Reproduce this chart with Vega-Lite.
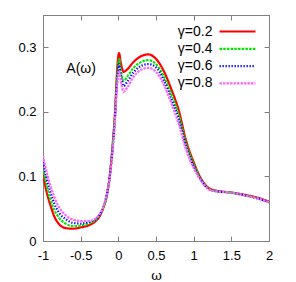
{
  "$schema": "https://vega.github.io/schema/vega-lite/v6.json",
  "width": 226,
  "height": 226,
  "autosize": {"type": "none"},
  "padding": {"left": 43, "top": 15, "right": 27, "bottom": 41},
  "config": {
    "font": "Liberation Sans",
    "view": {"stroke": "#808080", "strokeWidth": 1},
    "axis": {"grid": false, "domainColor": "#808080", "tickColor": "#808080", "labelFont": "Liberation Sans", "labelFontSize": 13, "labelColor": "black", "titleFontWeight": "normal"}
  },
  "datasets": {
    "curves": [
      {"w": -1, "A": 0.104, "g": "γ=0.2"}, {"w": -0.95, "A": 0.075, "g": "γ=0.2"}, {"w": -0.9, "A": 0.055, "g": "γ=0.2"}, {"w": -0.85, "A": 0.038, "g": "γ=0.2"}, {"w": -0.8, "A": 0.028, "g": "γ=0.2"}, {"w": -0.7, "A": 0.020, "g": "γ=0.2"}, {"w": -0.6, "A": 0.019, "g": "γ=0.2"}, {"w": -0.5, "A": 0.021, "g": "γ=0.2"}, {"w": -0.4, "A": 0.024, "g": "γ=0.2"}, {"w": -0.3, "A": 0.031, "g": "γ=0.2"}, {"w": -0.25, "A": 0.038, "g": "γ=0.2"}, {"w": -0.2, "A": 0.051, "g": "γ=0.2"}, {"w": -0.15, "A": 0.072, "g": "γ=0.2"}, {"w": -0.1, "A": 0.116, "g": "γ=0.2"}, {"w": -0.07, "A": 0.157, "g": "γ=0.2"}, {"w": -0.04, "A": 0.207, "g": "γ=0.2"}, {"w": -0.03, "A": 0.232, "g": "γ=0.2"}, {"w": -0.01, "A": 0.275, "g": "γ=0.2"}, {"w": 0.01, "A": 0.291, "g": "γ=0.2"}, {"w": 0.03, "A": 0.278, "g": "γ=0.2"}, {"w": 0.07, "A": 0.262, "g": "γ=0.2"}, {"w": 0.12, "A": 0.266, "g": "γ=0.2"}, {"w": 0.2, "A": 0.277, "g": "γ=0.2"}, {"w": 0.3, "A": 0.286, "g": "γ=0.2"}, {"w": 0.4, "A": 0.289, "g": "γ=0.2"}, {"w": 0.5, "A": 0.282, "g": "γ=0.2"}, {"w": 0.6, "A": 0.264, "g": "γ=0.2"}, {"w": 0.7, "A": 0.236, "g": "γ=0.2"}, {"w": 0.8, "A": 0.203, "g": "γ=0.2"}, {"w": 0.9, "A": 0.155, "g": "γ=0.2"}, {"w": 1.0, "A": 0.122, "g": "γ=0.2"}, {"w": 1.1, "A": 0.096, "g": "γ=0.2"}, {"w": 1.2, "A": 0.082, "g": "γ=0.2"}, {"w": 1.3, "A": 0.078, "g": "γ=0.2"}, {"w": 1.5, "A": 0.075, "g": "γ=0.2"}, {"w": 1.7, "A": 0.071, "g": "γ=0.2"}, {"w": 1.85, "A": 0.067, "g": "γ=0.2"}, {"w": 2.0, "A": 0.061, "g": "γ=0.2"},

      {"w": -1, "A": 0.112, "g": "γ=0.4"}, {"w": -0.95, "A": 0.085, "g": "γ=0.4"}, {"w": -0.9, "A": 0.064, "g": "γ=0.4"}, {"w": -0.85, "A": 0.048, "g": "γ=0.4"}, {"w": -0.8, "A": 0.038, "g": "γ=0.4"}, {"w": -0.7, "A": 0.027, "g": "γ=0.4"}, {"w": -0.6, "A": 0.023, "g": "γ=0.4"}, {"w": -0.5, "A": 0.024, "g": "γ=0.4"}, {"w": -0.4, "A": 0.027, "g": "γ=0.4"}, {"w": -0.3, "A": 0.033, "g": "γ=0.4"}, {"w": -0.25, "A": 0.040, "g": "γ=0.4"}, {"w": -0.2, "A": 0.052, "g": "γ=0.4"}, {"w": -0.15, "A": 0.073, "g": "γ=0.4"}, {"w": -0.1, "A": 0.115, "g": "γ=0.4"}, {"w": -0.07, "A": 0.155, "g": "γ=0.4"}, {"w": -0.04, "A": 0.204, "g": "γ=0.4"}, {"w": -0.03, "A": 0.228, "g": "γ=0.4"}, {"w": -0.01, "A": 0.266, "g": "γ=0.4"}, {"w": 0.01, "A": 0.282, "g": "γ=0.4"}, {"w": 0.03, "A": 0.267, "g": "γ=0.4"}, {"w": 0.07, "A": 0.248, "g": "γ=0.4"}, {"w": 0.12, "A": 0.255, "g": "γ=0.4"}, {"w": 0.2, "A": 0.268, "g": "γ=0.4"}, {"w": 0.3, "A": 0.277, "g": "γ=0.4"}, {"w": 0.4, "A": 0.280, "g": "γ=0.4"}, {"w": 0.5, "A": 0.274, "g": "γ=0.4"}, {"w": 0.6, "A": 0.256, "g": "γ=0.4"}, {"w": 0.7, "A": 0.228, "g": "γ=0.4"}, {"w": 0.8, "A": 0.196, "g": "γ=0.4"}, {"w": 0.9, "A": 0.150, "g": "γ=0.4"}, {"w": 1.0, "A": 0.119, "g": "γ=0.4"}, {"w": 1.1, "A": 0.095, "g": "γ=0.4"}, {"w": 1.2, "A": 0.081, "g": "γ=0.4"}, {"w": 1.3, "A": 0.077, "g": "γ=0.4"}, {"w": 1.5, "A": 0.075, "g": "γ=0.4"}, {"w": 1.7, "A": 0.070, "g": "γ=0.4"}, {"w": 1.85, "A": 0.066, "g": "γ=0.4"}, {"w": 2.0, "A": 0.060, "g": "γ=0.4"},

      {"w": -1, "A": 0.122, "g": "γ=0.6"}, {"w": -0.95, "A": 0.096, "g": "γ=0.6"}, {"w": -0.9, "A": 0.075, "g": "γ=0.6"}, {"w": -0.85, "A": 0.058, "g": "γ=0.6"}, {"w": -0.8, "A": 0.046, "g": "γ=0.6"}, {"w": -0.7, "A": 0.034, "g": "γ=0.6"}, {"w": -0.6, "A": 0.028, "g": "γ=0.6"}, {"w": -0.5, "A": 0.027, "g": "γ=0.6"}, {"w": -0.4, "A": 0.029, "g": "γ=0.6"}, {"w": -0.3, "A": 0.034, "g": "γ=0.6"}, {"w": -0.25, "A": 0.040, "g": "γ=0.6"}, {"w": -0.2, "A": 0.053, "g": "γ=0.6"}, {"w": -0.15, "A": 0.074, "g": "γ=0.6"}, {"w": -0.1, "A": 0.114, "g": "γ=0.6"}, {"w": -0.07, "A": 0.152, "g": "γ=0.6"}, {"w": -0.04, "A": 0.200, "g": "γ=0.6"}, {"w": -0.03, "A": 0.223, "g": "γ=0.6"}, {"w": -0.01, "A": 0.258, "g": "γ=0.6"}, {"w": 0.01, "A": 0.274, "g": "γ=0.6"}, {"w": 0.03, "A": 0.259, "g": "γ=0.6"}, {"w": 0.07, "A": 0.240, "g": "γ=0.6"}, {"w": 0.12, "A": 0.247, "g": "γ=0.6"}, {"w": 0.2, "A": 0.261, "g": "γ=0.6"}, {"w": 0.3, "A": 0.271, "g": "γ=0.6"}, {"w": 0.4, "A": 0.274, "g": "γ=0.6"}, {"w": 0.5, "A": 0.269, "g": "γ=0.6"}, {"w": 0.6, "A": 0.250, "g": "γ=0.6"}, {"w": 0.7, "A": 0.221, "g": "γ=0.6"}, {"w": 0.8, "A": 0.189, "g": "γ=0.6"}, {"w": 0.9, "A": 0.146, "g": "γ=0.6"}, {"w": 1.0, "A": 0.116, "g": "γ=0.6"}, {"w": 1.1, "A": 0.094, "g": "γ=0.6"}, {"w": 1.2, "A": 0.080, "g": "γ=0.6"}, {"w": 1.3, "A": 0.077, "g": "γ=0.6"}, {"w": 1.5, "A": 0.075, "g": "γ=0.6"}, {"w": 1.7, "A": 0.070, "g": "γ=0.6"}, {"w": 1.85, "A": 0.066, "g": "γ=0.6"}, {"w": 2.0, "A": 0.060, "g": "γ=0.6"},

      {"w": -1, "A": 0.132, "g": "γ=0.8"}, {"w": -0.95, "A": 0.106, "g": "γ=0.8"}, {"w": -0.9, "A": 0.085, "g": "γ=0.8"}, {"w": -0.85, "A": 0.068, "g": "γ=0.8"}, {"w": -0.8, "A": 0.055, "g": "γ=0.8"}, {"w": -0.7, "A": 0.040, "g": "γ=0.8"}, {"w": -0.6, "A": 0.033, "g": "γ=0.8"}, {"w": -0.5, "A": 0.031, "g": "γ=0.8"}, {"w": -0.4, "A": 0.031, "g": "γ=0.8"}, {"w": -0.3, "A": 0.035, "g": "γ=0.8"}, {"w": -0.25, "A": 0.041, "g": "γ=0.8"}, {"w": -0.2, "A": 0.053, "g": "γ=0.8"}, {"w": -0.15, "A": 0.074, "g": "γ=0.8"}, {"w": -0.1, "A": 0.112, "g": "γ=0.8"}, {"w": -0.07, "A": 0.148, "g": "γ=0.8"}, {"w": -0.04, "A": 0.195, "g": "γ=0.8"}, {"w": -0.03, "A": 0.217, "g": "γ=0.8"}, {"w": -0.01, "A": 0.249, "g": "γ=0.8"}, {"w": 0.01, "A": 0.264, "g": "γ=0.8"}, {"w": 0.03, "A": 0.250, "g": "γ=0.8"}, {"w": 0.07, "A": 0.231, "g": "γ=0.8"}, {"w": 0.12, "A": 0.238, "g": "γ=0.8"}, {"w": 0.2, "A": 0.254, "g": "γ=0.8"}, {"w": 0.3, "A": 0.265, "g": "γ=0.8"}, {"w": 0.4, "A": 0.268, "g": "γ=0.8"}, {"w": 0.5, "A": 0.262, "g": "γ=0.8"}, {"w": 0.6, "A": 0.243, "g": "γ=0.8"}, {"w": 0.7, "A": 0.214, "g": "γ=0.8"}, {"w": 0.8, "A": 0.182, "g": "γ=0.8"}, {"w": 0.9, "A": 0.141, "g": "γ=0.8"}, {"w": 1.0, "A": 0.113, "g": "γ=0.8"}, {"w": 1.1, "A": 0.093, "g": "γ=0.8"}, {"w": 1.2, "A": 0.080, "g": "γ=0.8"}, {"w": 1.3, "A": 0.077, "g": "γ=0.8"}, {"w": 1.5, "A": 0.075, "g": "γ=0.8"}, {"w": 1.7, "A": 0.070, "g": "γ=0.8"}, {"w": 1.85, "A": 0.066, "g": "γ=0.8"}, {"w": 2.0, "A": 0.060, "g": "γ=0.8"}
    ]
  },
  "resolve": {"axis": {"x": "independent", "y": "independent"}},
  "layer": [
    {
      "data": {"name": "curves"},
      "mark": {"type": "line", "interpolate": "monotone", "strokeWidth": 2.2, "clip": true},
      "encoding": {
        "x": {"field": "w", "type": "quantitative", "scale": {"domain": [-1, 2], "nice": false, "zero": false},
          "axis": {"orient": "bottom", "values": [-1, -0.5, 0, 0.5, 1, 1.5, 2], "labelExpr": "'' + datum.value", "tickSize": -5, "labelPadding": 13, "title": "ω", "titleFont": "DejaVu Serif", "titleFontSize": 13, "titlePadding": 7, "labelFlush": false}},
        "y": {"field": "A", "type": "quantitative", "scale": {"domain": [0, 0.35], "nice": false},
          "axis": {"orient": "left", "values": [0, 0.1, 0.2, 0.3], "labelExpr": "'' + datum.value", "tickSize": -5, "labelPadding": 12, "title": null}},
        "color": {"field": "g", "type": "nominal", "scale": {"range": ["#ff0000", "#00e600", "#0000ff", "#ff66ff"]},
          "legend": {"title": null, "orient": "none", "legendX": 187, "legendY": 9, "symbolType": "M-3,0H3", "symbolSize": 144, "symbolStrokeWidth": 2.2, "symbolFillColor": "transparent", "labelAlign": "right", "labelOffset": -32.5, "labelFontSize": 14, "labelFont": "Liberation Sans", "rowPadding": 2.3, "padding": 0}},
        "strokeDash": {"field": "g", "type": "nominal", "scale": {"range": [[1, 0], [2.5, 1.2], [1.3, 1.7], [2.5, 1]]}, "legend": null}
      }
    },
    {
      "data": {"values": [{"label": "A(ω)", "w": -0.69, "A": 0.266}]},
      "mark": {"type": "text", "align": "left", "baseline": "middle", "fontSize": 14, "font": "Liberation Sans"},
      "encoding": {
        "x": {"field": "w", "type": "quantitative", "axis": {"orient": "top", "values": [-1, -0.5, 0, 0.5, 1, 1.5, 2], "labels": false, "tickSize": -5, "title": null}},
        "y": {"field": "A", "type": "quantitative", "axis": {"orient": "right", "values": [0, 0.1, 0.2, 0.3], "labels": false, "tickSize": -5, "title": null}},
        "text": {"field": "label"}
      }
    }
  ]
}
